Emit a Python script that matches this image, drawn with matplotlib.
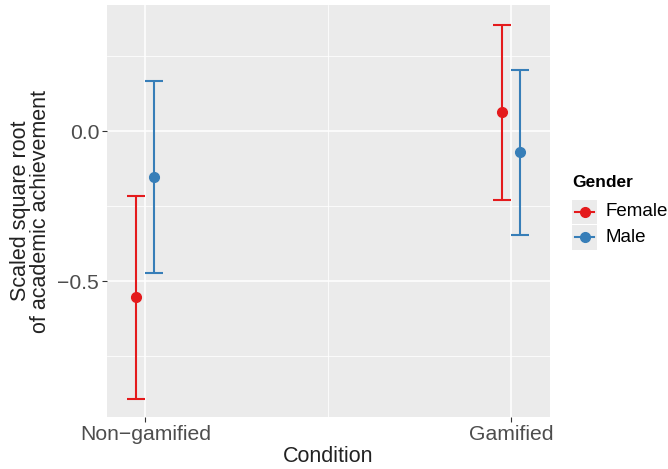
import matplotlib.pyplot as plt
from matplotlib.lines import Line2D
from matplotlib.patches import Rectangle

plt.rcParams['font.family'] = ['Liberation Sans', 'DejaVu Sans']

# data
conditions = ["Non\u2212gamified", "Gamified"]
genders = ["Female", "Male"]
means = {"Female": [-0.553, 0.063], "Male": [-0.153, -0.070]}
lower = {"Female": [-0.893, -0.230], "Male": [-0.473, -0.347]}
upper = {"Female": [-0.217, 0.353], "Male": [0.167, 0.203]}
colors = {"Female": "#E41A1C", "Male": "#377EB8"}
dodge = {"Female": -0.025, "Male": 0.025}

fig = plt.figure(figsize=(6.68, 4.69), dpi=100)
ax = fig.add_axes([0.160, 0.111, 0.663, 0.878])
ax.set_facecolor("#EBEBEB")

xs = [1, 2]
for g in genders:
    x = [v + dodge[g] for v in xs]
    m = means[g]
    err = [[mm - lo for mm, lo in zip(m, lower[g])],
           [hi - mm for mm, hi in zip(m, upper[g])]]
    ax.errorbar(x, m, yerr=err, fmt="o", color=colors[g], markersize=7,
                elinewidth=1.5, capsize=6.5, capthick=1.5, zorder=3)

ax.set_xlim(0.895, 2.105)
ax.set_ylim(-0.953, 0.42)
ax.set_xticks(xs)
ax.set_xticklabels(conditions)
ax.set_xticks([1.5], minor=True)
ax.set_yticks([0.0, -0.5])
ax.set_yticklabels(["0.0", "\u22120.5"])
ax.set_yticks([0.25, -0.25, -0.75], minor=True)

ax.grid(which="major", color="white", linewidth=1.1)
ax.grid(which="minor", color="white", linewidth=0.55)
ax.set_axisbelow(True)
for s in ax.spines.values():
    s.set_visible(False)
ax.tick_params(which="major", length=3.5, color="#333333", width=0.8,
               labelsize=15.2, labelcolor="#4D4D4D", pad=2)
ax.tick_params(which="minor", length=0)

ax.set_xlabel("Condition", fontsize=15.5, color="#222222", labelpad=2)
ax.set_ylabel("Scaled square root\nof academic achievement", fontsize=15.5,
              color="#222222", labelpad=5, linespacing=0.9)

# legend drawn by hand, ggplot style
fig.text(0.857, 0.610, "Gender", fontsize=12.5, fontweight="bold",
         ha="left", va="center")
key_y = [0.548, 0.494]
for g, ky in zip(genders, key_y):
    fig.patches.append(Rectangle((0.857, ky - 0.026), 0.036, 0.052,
                                 transform=fig.transFigure,
                                 facecolor="#EBEBEB", edgecolor="none"))
    fig.lines.append(Line2D([0.861, 0.889], [ky, ky], transform=fig.transFigure,
                            color=colors[g], linewidth=1.5))
    fig.lines.append(Line2D([0.875], [ky], transform=fig.transFigure,
                            color=colors[g], marker="o", markersize=7))
    fig.text(0.906, ky, g, fontsize=13.5, ha="left", va="center")

fig.savefig("out.png", dpi=100)
